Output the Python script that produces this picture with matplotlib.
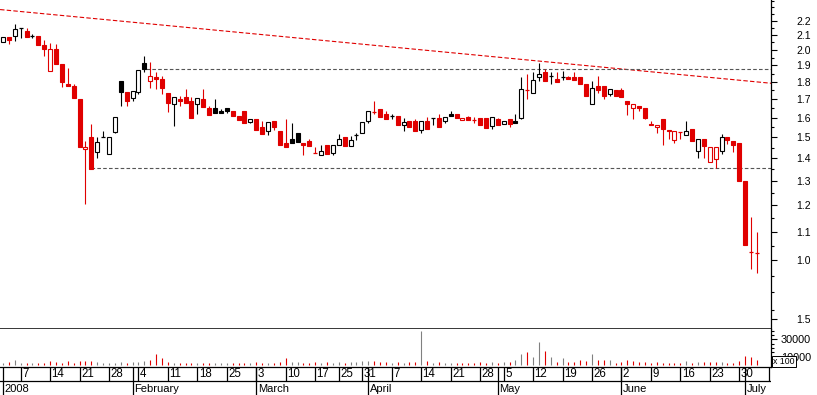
import matplotlib
matplotlib.use("Agg")
import matplotlib.pyplot as plt
import pandas as pd
from matplotlib.patches import Rectangle
from matplotlib.ticker import NullFormatter

plt.rcParams["font.family"] = ["Liberation Sans", "DejaVu Sans"]
plt.rcParams["lines.scale_dashes"] = False

# trading days, Jan 2 - Jul 3 2008
holidays = ["2008-03-21", "2008-03-24", "2008-05-01"]
dates = [d for d in pd.bdate_range("2008-01-02", "2008-07-03") if d.strftime("%Y-%m-%d") not in holidays]

opens = [2.05, 2.09, 2.093, 2.147, 2.128, 2.095, 2.093, 2.031, 1.868, 2.005,
         1.907, 1.785, 1.773, 1.704, 1.444, 1.503, 1.431, 1.499, 1.422, 1.524,
         1.803, 1.74, 1.706, 1.74, 1.914, 1.805, 1.827, 1.815, 1.738, 1.675,
         1.704, 1.714, 1.688, 1.675, 1.704, 1.654, 1.654, 1.633, 1.654, 1.633,
         1.611, 1.633, 1.579, 1.595, 1.553, 1.533, 1.584, 1.533, 1.473, 1.493,
         1.523, 1.473, 1.483, 1.423, 1.416, 1.464, 1.426, 1.464, 1.503, 1.458,
         1.513, 1.523, 1.584, 1.631, 1.649, 1.621, 1.607, 1.611, 1.564, 1.584,
         1.584, 1.538, 1.584, 1.6, 1.6, 1.584, 1.621, 1.621, 1.59, 1.601,
         1.588, 1.6, 1.6, 1.558, 1.595, 1.569, 1.595, 1.584, 1.6, 1.75,
         1.733, 1.827, 1.857, 1.833, 1.815, 1.827, 1.827, 1.827, 1.827, 1.785,
         1.671, 1.773, 1.773, 1.727, 1.75, 1.75, 1.688, 1.654, 1.665, 1.654,
         1.569, 1.552, 1.595, 1.538, 1.488, 1.528, 1.513, 1.543, 1.435, 1.493,
         1.383, 1.397, 1.435, 1.503, 1.483, 1.473, 1.299, 1.027, 1.026]
highs = [2.09, 2.09, 2.177, 2.147, 2.147, 2.11, 2.093, 2.065, 2.045, 2.04,
         1.907, 1.884, 1.79, 1.704, 1.483, 1.565, 1.503, 1.533, 1.503, 1.606,
         1.803, 1.74, 1.744, 1.87, 1.959, 1.92, 1.857, 1.833, 1.738, 1.715,
         1.721, 1.756, 1.71, 1.708, 1.756, 1.664, 1.704, 1.649, 1.654, 1.633,
         1.611, 1.633, 1.595, 1.595, 1.581, 1.579, 1.584, 1.533, 1.595, 1.574,
         1.523, 1.473, 1.493, 1.454, 1.464, 1.464, 1.464, 1.518, 1.503, 1.508,
         1.523, 1.579, 1.633, 1.688, 1.649, 1.633, 1.621, 1.611, 1.6, 1.584,
         1.595, 1.584, 1.606, 1.6, 1.617, 1.606, 1.633, 1.621, 1.598, 1.611,
         1.606, 1.6, 1.6, 1.606, 1.6, 1.584, 1.595, 1.621, 1.827, 1.845,
         1.857, 1.914, 1.876, 1.857, 1.857, 1.863, 1.833, 1.857, 1.827, 1.785,
         1.803, 1.833, 1.773, 1.756, 1.75, 1.762, 1.688, 1.671, 1.665, 1.654,
         1.584, 1.562, 1.595, 1.538, 1.531, 1.528, 1.584, 1.543, 1.493, 1.493,
         1.454, 1.452, 1.518, 1.503, 1.483, 1.473, 1.299, 1.153, 1.1]
lows = [2.05, 2.04, 2.06, 2.08, 2.09, 2.08, 2.033, 1.961, 1.868, 1.909,
        1.769, 1.774, 1.706, 1.455, 1.206, 1.353, 1.403, 1.499, 1.418, 1.52,
        1.665, 1.66, 1.689, 1.731, 1.859, 1.766, 1.756, 1.731, 1.632, 1.555,
        1.66, 1.678, 1.6, 1.618, 1.656, 1.613, 1.623, 1.626, 1.623, 1.611,
        1.586, 1.574, 1.573, 1.534, 1.514, 1.513, 1.535, 1.462, 1.455, 1.473,
        1.476, 1.417, 1.458, 1.423, 1.416, 1.42, 1.416, 1.464, 1.458, 1.458,
        1.488, 1.523, 1.574, 1.621, 1.606, 1.595, 1.595, 1.564, 1.533, 1.553,
        1.533, 1.523, 1.543, 1.564, 1.553, 1.574, 1.611, 1.6, 1.586, 1.59,
        1.574, 1.564, 1.548, 1.543, 1.564, 1.569, 1.553, 1.574, 1.595, 1.699,
        1.733, 1.803, 1.803, 1.785, 1.797, 1.809, 1.815, 1.81, 1.785, 1.716,
        1.671, 1.738, 1.704, 1.716, 1.716, 1.713, 1.616, 1.595, 1.633, 1.595,
        1.564, 1.523, 1.464, 1.493, 1.473, 1.493, 1.513, 1.483, 1.401, 1.401,
        1.383, 1.356, 1.42, 1.468, 1.43, 1.299, 1.051, 0.971, 0.961]
closes = [2.09, 2.067, 2.14, 2.147, 2.09, 2.095, 2.033, 2.006, 2.005, 1.909,
          1.801, 1.774, 1.706, 1.455, 1.452, 1.353, 1.475, 1.499, 1.503, 1.606,
          1.74, 1.693, 1.744, 1.87, 1.878, 1.833, 1.815, 1.763, 1.678, 1.71,
          1.689, 1.678, 1.6, 1.708, 1.656, 1.613, 1.623, 1.626, 1.634, 1.611,
          1.586, 1.574, 1.595, 1.534, 1.514, 1.579, 1.553, 1.462, 1.455, 1.473,
          1.476, 1.46, 1.458, 1.423, 1.435, 1.42, 1.464, 1.493, 1.458, 1.488,
          1.513, 1.579, 1.633, 1.631, 1.606, 1.595, 1.607, 1.564, 1.579, 1.553,
          1.533, 1.584, 1.543, 1.6, 1.553, 1.606, 1.611, 1.6, 1.598, 1.59,
          1.588, 1.564, 1.548, 1.606, 1.564, 1.584, 1.569, 1.574, 1.756, 1.75,
          1.809, 1.845, 1.803, 1.833, 1.797, 1.827, 1.815, 1.81, 1.785, 1.716,
          1.767, 1.75, 1.716, 1.756, 1.716, 1.713, 1.676, 1.671, 1.654, 1.6,
          1.564, 1.562, 1.543, 1.533, 1.531, 1.528, 1.533, 1.483, 1.493, 1.458,
          1.454, 1.452, 1.503, 1.488, 1.464, 1.299, 1.051, 1.027, 1.026]
# volume in units of 100 shares
volumes = [2400, 3600, 6000, 2400, 2400, 2400, 2400, 2400, 4800, 3600,
           2400, 4800, 2400, 4800, 5600, 5600, 4000, 2400, 2400, 2400,
           3600, 2400, 4000, 4000, 5600, 6400, 12800, 8800, 3600, 2400,
           2400, 2400, 2400, 3200, 2400, 2400, 2400, 2400, 2400, 2400,
           2400, 2400, 2400, 3600, 2400, 2400, 2400, 3600, 8800, 3600,
           3600, 2400, 2400, 3600, 2400, 3600, 2400, 3600, 2400, 3600,
           4000, 4800, 4800, 4800, 3600, 3600, 2400, 3600, 2400, 3600,
           3600, 39000, 4800, 2400, 3600, 2400, 2400, 2400, 2400, 2400,
           2400, 4000, 2400, 3600, 2400, 3600, 4000, 6000, 12800, 15000,
           10000, 27000, 16800, 9600, 3600, 8000, 3600, 3600, 6000, 5600,
           12800, 6000, 6000, 6000, 2400, 3600, 6400, 4800, 3600, 3600,
           2400, 3600, 2400, 2400, 2400, 2400, 4800, 2400, 3600, 3600,
           3600, 3600, 3600, 2400, 2400, 5600, 10400, 9600, 6000]

# trend / support / resistance lines (index, price)
trend_x = [-0.5, 130.4]
trend_y = [2.284, 1.792]
resist_x = [24.3, 130.4]
resist_y = [1.88, 1.88]
support_x = [14.9, 130.4]
support_y = [1.355, 1.355]

price_ticks = [1.0, 1.1, 1.2, 1.3, 1.4, 1.5, 1.6, 1.7, 1.8, 1.9, 2.0, 2.1, 2.2, 0.825]
price_labels = ["1.0", "1.1", "1.2", "1.3", "1.4", "1.5", "1.6", "1.7", "1.8", "1.9",
                "2.0", "2.1", "2.2", "1.5"]
vol_ticks = [10000, 30000]
vol_labels = ["10000", "30000"]
month_names = ["2008", "February", "March", "April", "May", "June", "July"]

RED = "#E00000"
GRAY = "#808080"
W, H = 817, 395
X0 = -0.51
X1 = 130.39


def rect(x0, y0, x1, y1):
    return [x0 / W, 1 - y1 / H, (x1 - x0) / W, (y1 - y0) / H]


fig = plt.figure(figsize=(W / 100, H / 100), dpi=100)
ax = fig.add_axes(rect(0, 0, 771, 329))
axv = fig.add_axes(rect(0, 329, 771, 366.5))
axd = fig.add_axes(rect(0, 366.5, 771, 395))

# --- candles ---
bw = 0.68
for i, (o, h, l, c) in enumerate(zip(opens, highs, lows, closes)):
    up = i == 0 or c >= closes[i - 1]
    col = "black" if up else RED
    ax.vlines(i, l, h, color=col, lw=0.8, zorder=2)
    if abs(c - o) < 1e-9:
        ax.hlines(c, i - bw / 2, i + bw / 2, color=col, lw=0.9, zorder=3)
    elif c > o:
        ax.add_patch(Rectangle((i - bw / 2, o), bw, c - o, fc="white", ec=col, lw=0.8, zorder=3))
    else:
        ax.add_patch(Rectangle((i - bw / 2, c), bw, o - c, fc=col, ec=col, lw=0.8, zorder=3))

ax.plot(trend_x, trend_y, color=RED, lw=0.8, dashes=(3.2, 1.6), zorder=1)
ax.plot(resist_x, resist_y, color="#555555", lw=0.8, dashes=(2.6, 1.6), zorder=1)
ax.plot(support_x, support_y, color="#555555", lw=0.8, dashes=(2.6, 1.6), zorder=1)

ax.set_yscale("log")
ax.set_xlim(X0, X1)
ax.set_ylim(0.798, 2.357)
ax.set_yticks(price_ticks, labels=price_labels)
ax.set_yticks([v / 100 for v in range(85, 236, 5)], minor=True)
ax.yaxis.set_minor_formatter(NullFormatter())
ax.yaxis.tick_right()
ax.tick_params(axis="y", which="major", length=4, width=0.8, pad=14.5, labelsize=7.5, direction="out")
ax.tick_params(axis="y", which="minor", length=2.5, width=0.8, direction="out")
ax.set_xticks([])
for s in ["left", "top"]:
    ax.spines[s].set_visible(False)
ax.spines["right"].set_linewidth(0.9)
ax.spines["bottom"].set_linewidth(1.1)

# --- volume ---
for i, v in enumerate(volumes):
    up = i == 0 or closes[i] >= closes[i - 1]
    axv.vlines(i, 0, v, color=GRAY if up else RED, lw=0.8)
axv.set_xlim(X0, X1)
axv.set_ylim(-1176, 41760)
axv.yaxis.tick_right()
axv.set_yticks(vol_ticks, labels=vol_labels)
axv.set_yticks([5000, 15000, 20000, 25000, 35000, 40000], minor=True)
axv.tick_params(axis="y", which="major", length=4, width=0.8, pad=3, labelsize=7.8)
axv.tick_params(axis="y", which="minor", length=2.5, width=0.8)
axv.set_xticks([])
for s in ["left", "top", "bottom"]:
    axv.spines[s].set_visible(False)
axv.spines["right"].set_linewidth(0.9)
fig.text(773 / W, 1 - 361.5 / H, "x 100", fontsize=6.3, va="center", ha="left",
         bbox=dict(boxstyle="square,pad=0.12", fc="white", ec="black", lw=0.7))

# --- date axis ---
axd.set_xlim(X0, X1)
axd.set_ylim(0, 2)
axd.axis("off")
axd.axhline(2, color="black", lw=0.9, clip_on=False)
axd.axhline(1, color="black", lw=0.9)
prev = None
m = 0
for i, d in enumerate(dates):
    if prev is None or d.month != prev.month:
        axd.vlines(i, 0, 2, color="black", lw=0.9)
        axd.text(i + 0.25, 0.45, month_names[m], fontsize=8, va="center", ha="left")
        m += 1
    if prev is not None and d.isocalendar()[1] != prev.isocalendar()[1]:
        axd.vlines(i, 1, 2, color="black", lw=0.9)
        axd.text(i + 0.25, 1.45, str(d.day), fontsize=8.3, va="center", ha="left")
    prev = d
# following Monday (Jul 7) tick at the right edge
axd.vlines(len(dates) + 1, 1, 2, color="black", lw=0.9)

fig.savefig("out.png", dpi=100)
